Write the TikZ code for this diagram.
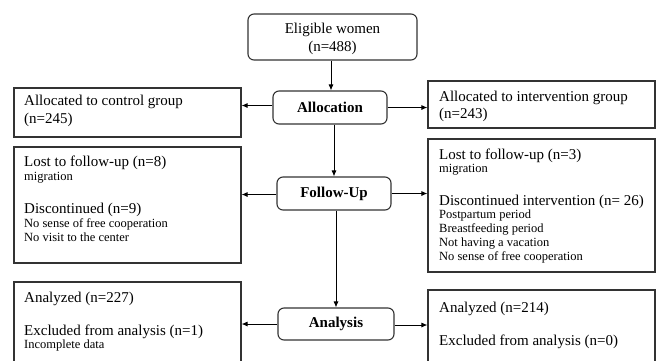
\documentclass[tikz,border=0pt]{standalone}
\usepackage{fontspec}
\setmainfont{Liberation Serif}
\usetikzlibrary{arrows.meta}
\begin{document}
\begin{tikzpicture}[x=1pt,y=-1pt,
  box/.style={draw=black!80,line width=1.1pt,inner sep=0pt,minimum width=#1},
  rbox/.style={draw=black!80,line width=1.1pt,rounded corners=6pt,inner sep=0pt,font=\fontsize{15}{18}\selectfont\bfseries},
  big/.style={inner sep=0pt,anchor=base west,font=\fontsize{15}{18}\selectfont},
  sml/.style={inner sep=0pt,anchor=base west,font=\fontsize{12.5}{14}\selectfont},
  arr/.style={line width=0.9pt,-{Latex[length=6pt,width=5pt]}}]
\clip (0,0) rectangle (657,360);
\fill[white] (0,0) rectangle (657,360);
% boxes
\node[rbox,minimum width=169pt,minimum height=46pt] (elig) at (332.5,37) {};
\node[rbox,minimum width=114pt,minimum height=33pt] (alloc) at (330,107.5) {Allocation};
\node[rbox,minimum width=114pt,minimum height=33pt] (follow) at (334,193.5) {Follow-Up};
\node[rbox,minimum width=116pt,minimum height=32pt] (anal) at (336,324) {Analysis};
\node[box=227pt,minimum height=49pt] (ctrl) at (127.5,112.5) {};
\node[box=227pt,minimum height=47pt] (inter) at (541.5,104.5) {};
\node[box=227pt,minimum height=116pt] (lostL) at (127.5,205) {};
\node[box=227pt,minimum height=133pt] (lostR) at (541.5,205.5) {};
\node[box=227pt,minimum height=90pt] (analL) at (127.5,327) {};
\node[box=227pt,minimum height=90pt] (analR) at (541.5,335) {};
% texts
\node[inner sep=0pt,anchor=base,font=\fontsize{15}{18}\selectfont] (e1) at (332.5,33) {Eligible women};
\node[inner sep=0pt,anchor=base,font=\fontsize{15}{18}\selectfont] (e2) at (332.5,51) {(n=488)};
\node[big] (c1) at (24,105) {Allocated to control group};
\node[big] (c2) at (24,123) {(n=245)};
\node[big] (i1) at (439,101) {Allocated to intervention group};
\node[big] (i2) at (439,118) {(n=243)};
\node[big] (l1) at (24,166) {Lost to follow-up (n=8)};
\node[sml] (l2) at (24,180) {migration};
\node[big] (l3) at (24,213) {Discontinued (n=9)};
\node[sml] (l4) at (24,227) {No sense of free cooperation};
\node[sml] (l5) at (24,241) {No visit to the center};
\node[big] (r1) at (439,159) {Lost to follow-up (n=3)};
\node[sml] (r2) at (439,172) {migration};
\node[big] (r3) at (439,205) {Discontinued intervention (n= 26)};
\node[sml] (r4) at (439,218) {Postpartum period};
\node[sml] (r5) at (439,232) {Breastfeeding period};
\node[sml] (r6) at (439,246) {Not having a vacation};
\node[sml] (r7) at (439,260) {No sense of free cooperation};
\node[big] (a1) at (24,302) {Analyzed (n=227)};
\node[big] (a2) at (24,335) {Excluded from analysis (n=1)};
\node[sml] (a3) at (24,348) {Incomplete data};
\node[big] (b1) at (439,312) {Analyzed (n=214)};
\node[big] (b2) at (439,345) {Excluded from analysis (n=0)};
% arrows
\draw[arr] ([xshift=-1.5pt]elig.south) -- ([xshift=-1.5pt]elig.south |- alloc.north);
\draw[arr] ([xshift=4pt]alloc.south) -- ([xshift=4pt]alloc.south |- follow.north);
\draw[arr] ([xshift=2pt]follow.south) -- ([xshift=2pt]follow.south |- anal.north);
\draw[arr] ([yshift=2pt]alloc.west) -- ([yshift=2pt]alloc.west -| ctrl.east);
\draw[arr] (alloc.east) -- (alloc.east -| inter.west);
\draw[arr] ([yshift=-1pt]follow.west) -- ([yshift=-1pt]follow.west -| lostL.east);
\draw[arr] (follow.east) -- (follow.east -| lostR.west);
\draw[arr] (anal.west) -- (anal.west -| analL.east);
\draw[arr] ([yshift=-1pt]anal.east) -- ([yshift=-1pt]anal.east -| analR.west);
\end{tikzpicture}
\end{document}
